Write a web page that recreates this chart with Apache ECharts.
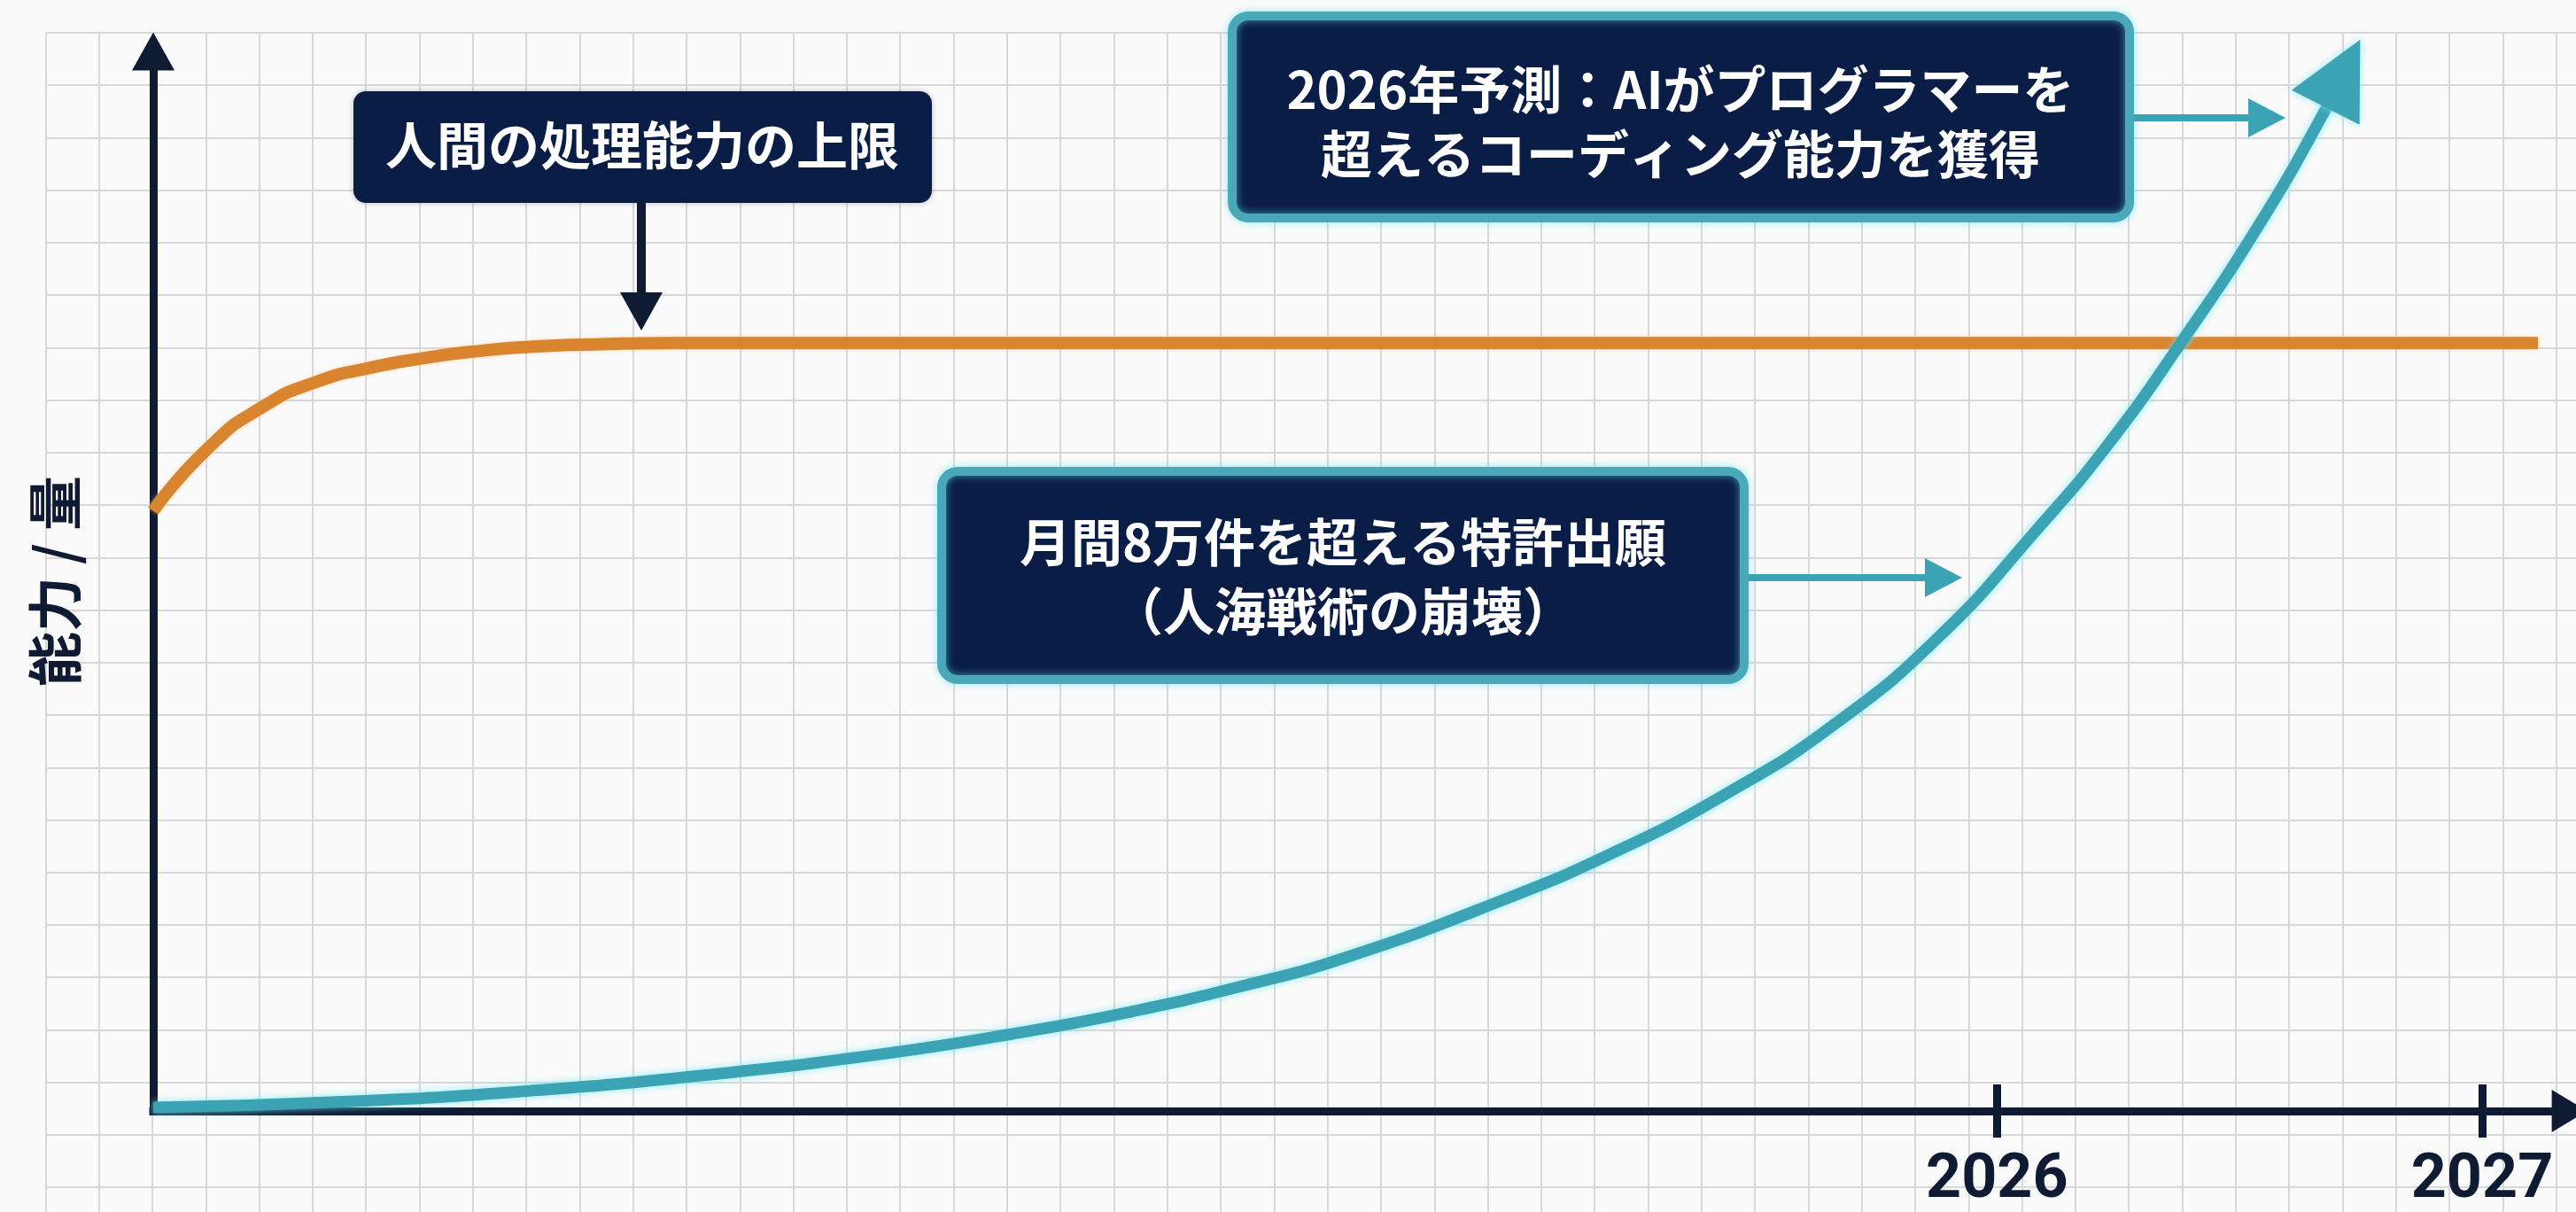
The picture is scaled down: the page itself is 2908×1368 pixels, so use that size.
<!DOCTYPE html>
<html>
<head>
<meta charset="utf-8">
<script src="https://cdn.jsdelivr.net/npm/echarts@6/dist/echarts.min.js"></script>
<style>
html,body{margin:0;padding:0;background:#fafafa;}
#c{width:2908px;height:1368px;}
</style>
</head>
<body>
<div id="c"></div>
<script>
// ---- data ----
const humanYears = [2022.200, 2022.313, 2022.426, 2022.536, 2022.647, 2022.759, 2022.872, 2022.983, 2023.107, 2023.272, 2023.500, 2025.000, 2027.115];
const humanLevel = [56.63, 62.55, 66.47, 68.81, 70.14, 71.06, 71.73, 72.14, 72.35, 72.48, 72.48, 72.48, 72.48];

const aiYears = [2022.200, 2022.614, 2022.980, 2023.345, 2023.710, 2023.989, 2024.212, 2024.435, 2024.659, 2024.988,
                 2025.216, 2025.439, 2025.664, 2025.883, 2026.084, 2026.226, 2026.379, 2026.545, 2026.681];
const aiLevel = [0.33, 0.92, 1.92, 3.42, 5.42, 7.42, 9.34, 11.68, 14.51, 20.02,
                 24.52, 29.86, 36.45, 44.87, 54.96, 62.72, 72.48, 83.99, 94.83];
const aiArrowHead = [2026.713, 97.91];

const tickYears = [2026, 2027];
const yAxisTitle = '能力 / 量';
const noteHuman = '人間の処理能力の上限';
const noteForecast = '2026年予測：AIがプログラマーを\n超えるコーディング能力を獲得';
const notePatent = '月間8万件を超える特許出願\n（人海戦術の崩壊）';

// ---- styles ----
const NAVY = '#0f1a33';
const TEAL = '#3ba3b4';
const ORANGE = '#d9842f';
const BOX = '#0a1d46';
const BORDER = '#4aa9b8';
const GRIDLINE = '#d8d8d8';
const CJK = '"Noto Sans CJK JP"';

const chart = echarts.init(document.getElementById('c'), null, {renderer: 'canvas'});

const humanData = humanYears.map((x, i) => [x, humanLevel[i]]);
const aiData = aiYears.map((x, i) => [x, aiLevel[i]]);
aiData.push({value: aiArrowHead, symbol: 'triangle', symbolSize: [86, 86], symbolRotate: -27,
             itemStyle: {color: TEAL, shadowColor: 'rgba(110,235,245,0.8)', shadowBlur: 8}});

const hiddenAxisParts = {axisLine: {show: false}, axisTick: {show: false}, axisLabel: {show: false}};

const option = {
  backgroundColor: '#fafafa',
  animation: false,
  grid: [
    {left: 51.35, right: -40, top: 37, bottom: -40},
    {left: 173, right: 7.4, top: 58, bottom: 111}
  ],
  xAxis: [
    Object.assign({gridIndex: 0, type: 'value', min: 0, max: 47.37, interval: 1,
      splitLine: {show: true, showMinLine: true, showMaxLine: false, lineStyle: {color: GRIDLINE, width: 2}}}, hiddenAxisParts),
    {gridIndex: 1, type: 'value', min: 2022.2, max: 2027.18, position: 'bottom',
      axisLine: {show: true, symbol: ['none', 'triangle'], symbolSize: [48, 40],
                 lineStyle: {color: NAVY, width: 9, cap: 'square'}},
      axisTick: {show: true, customValues: tickYears, length: 30, lineStyle: {color: NAVY, width: 9}},
      axisLabel: {show: true, customValues: tickYears, margin: 44, fontSize: 70, fontWeight: 'bold',
                  fontFamily: 'Roboto', color: NAVY, formatter: v => String(Math.round(v))},
      splitLine: {show: false}},
    {gridIndex: 1, type: 'value', min: 2022.2, max: 2027.18, position: 'bottom',
      axisLine: {show: false},
      axisTick: {show: true, inside: true, customValues: tickYears, length: 30, lineStyle: {color: NAVY, width: 9}},
      axisLabel: {show: false},
      splitLine: {show: false}}
  ],
  yAxis: [
    Object.assign({gridIndex: 0, type: 'value', inverse: true, min: 0, max: 22.47, interval: 1,
      splitLine: {show: true, showMinLine: true, showMaxLine: false, lineStyle: {color: GRIDLINE, width: 2}}}, hiddenAxisParts),
    {gridIndex: 1, type: 'value', min: 0, max: 100,
      axisLine: {show: true, symbol: ['none', 'triangle'], symbolSize: [48, 43],
                 lineStyle: {color: NAVY, width: 9, cap: 'square'}},
      axisTick: {show: false}, axisLabel: {show: false}, splitLine: {show: false},
      name: yAxisTitle, nameLocation: 'middle', nameGap: 80, nameRotate: 90,
      nameTextStyle: {fontSize: 62, fontWeight: 'bold', color: NAVY, fontFamily: CJK}}
  ],
  series: [
    {type: 'line', name: 'human', xAxisIndex: 1, yAxisIndex: 1, data: humanData,
     smooth: 0.6, symbol: 'none', clip: false, silent: true, z: 3,
     lineStyle: {color: ORANGE, width: 14, cap: 'butt', shadowColor: 'rgba(255,205,140,0.6)', shadowBlur: 4}},
    {type: 'line', name: 'ai', xAxisIndex: 1, yAxisIndex: 1, data: aiData,
     smooth: 0.5, symbol: 'none', showSymbol: true, showAllSymbol: true,
     clip: false, silent: true, z: 4,
     lineStyle: {color: TEAL, width: 13, cap: 'butt', shadowColor: 'rgba(110,235,245,0.8)', shadowBlur: 8}}
  ],
  graphic: [
    // box 1
    {type: 'rect', z: 20, shape: {x: 399, y: 103, width: 653, height: 126, r: 14},
     style: {fill: BOX, shadowColor: 'rgba(0,0,0,0.25)', shadowBlur: 6}},
    {type: 'text', z: 21, x: 725, y: 164,
     style: {text: noteHuman, fill: '#ffffff', font: 'bold 58px ' + CJK, align: 'center', verticalAlign: 'middle'}},
    {type: 'line', z: 20, shape: {x1: 724, y1: 229, x2: 724, y2: 335}, style: {stroke: NAVY, lineWidth: 10}},
    {type: 'polygon', z: 20, shape: {points: [[700, 330], [748, 330], [724, 373]]}, style: {fill: NAVY}},
    // box 2
    {type: 'rect', z: 20, shape: {x: 1391, y: 18, width: 1013, height: 228, r: 18},
     style: {fill: BOX, stroke: BORDER, lineWidth: 10, shadowColor: 'rgba(100,225,240,0.6)', shadowBlur: 10}},
    {type: 'text', z: 21, x: 1897, y: 137,
     style: {text: noteForecast, fill: '#ffffff', font: 'bold 58px ' + CJK, align: 'center', verticalAlign: 'middle', lineHeight: 73}},
    {type: 'line', z: 20, shape: {x1: 2409, y1: 133, x2: 2542, y2: 133}, style: {stroke: TEAL, lineWidth: 8}},
    {type: 'polygon', z: 20, shape: {points: [[2538, 111], [2538, 155], [2580, 133]]}, style: {fill: TEAL}},
    // box 3
    {type: 'rect', z: 20, shape: {x: 1063, y: 532, width: 906, height: 235, r: 18},
     style: {fill: BOX, stroke: BORDER, lineWidth: 10, shadowColor: 'rgba(100,225,240,0.6)', shadowBlur: 10}},
    {type: 'text', z: 21, x: 1516, y: 651,
     style: {text: notePatent, fill: '#ffffff', font: 'bold 58px ' + CJK, align: 'center', verticalAlign: 'middle', lineHeight: 78}},
    {type: 'line', z: 20, shape: {x1: 1974, y1: 652, x2: 2177, y2: 652}, style: {stroke: TEAL, lineWidth: 8}},
    {type: 'polygon', z: 20, shape: {points: [[2173, 630], [2173, 674], [2215, 652]]}, style: {fill: TEAL}}
  ]
};

chart.setOption(option);
</script>
</body>
</html>
